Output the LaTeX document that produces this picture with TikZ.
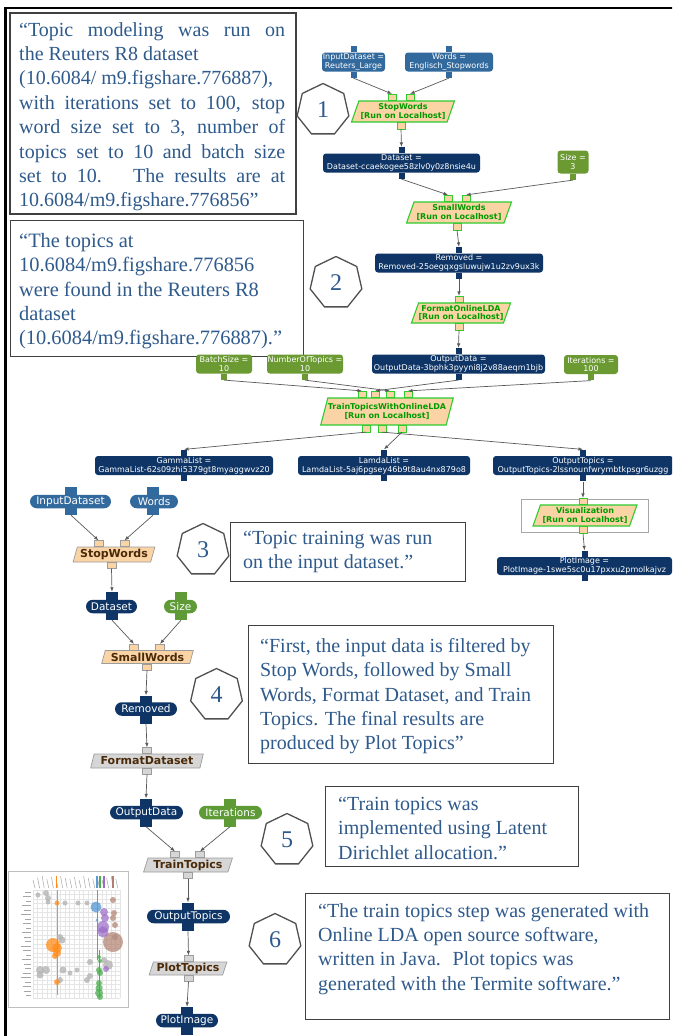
\documentclass[tikz,border=0pt]{standalone}
\usepackage{fontspec}
\setmainfont{Liberation Serif}
\newfontfamily\uifont{DejaVu Sans}
\usetikzlibrary{shapes.geometric,arrows.meta,calc}

\definecolor{quoteblue}{HTML}{2F5A8C}
\definecolor{boxline}{HTML}{404040}
\definecolor{heptline}{HTML}{505050}
\definecolor{inblue}{HTML}{336A9E}
\definecolor{navy}{HTML}{0E3566}
\definecolor{parmgreen}{HTML}{6B9A32}
\definecolor{procfill}{HTML}{FBD4A6}
\definecolor{procline}{HTML}{2ECC2E}
\definecolor{proctext}{HTML}{009A00}
\definecolor{greyfill}{HTML}{D6D6D6}
\definecolor{greyline}{HTML}{9C9C9C}
\definecolor{stepbrown}{HTML}{4A2A08}
\definecolor{pillgreen}{HTML}{5E9B37}
\definecolor{wire}{HTML}{5A5A5A}
\definecolor{tmorange}{HTML}{FF8C1A}
\definecolor{tmblue}{HTML}{5B9BD5}
\definecolor{tmpurple}{HTML}{9B6BC8}
\definecolor{tmbrown}{HTML}{B07F6E}
\definecolor{tmgreen}{HTML}{4CAF50}
\definecolor{tmgrey}{HTML}{B4B4B4}

% a justified line of the first quotation
\newcommand{\fullline}[1]{\makebox[266pt][s]{#1}}

\tikzset{
  quotebox/.style={draw=boxline, line width=1.4pt, fill=white, anchor=north west, inner sep=0pt},
  quotetext/.style={anchor=north west, inner sep=0pt, align=left, text=quoteblue,
    font=\fontsize{#1}{24.4}\selectfont},
  quotetext/.default=20,
  hept/.style={regular polygon, regular polygon sides=7,
    draw=heptline, line width=1.3pt, fill=white, minimum size=53pt, inner sep=0pt,
    text=quoteblue, font=\fontsize{24}{24}\selectfont},
  datanode/.style={rounded corners=3pt, fill=#1, text=white, align=center, inner sep=0pt,
    minimum height=19pt, font=\uifont\fontsize{8}{8.6}\selectfont},
  tabup/.style={fill=#1, minimum width=6pt, minimum height=6pt, inner sep=0pt, anchor=south},
  tabdown/.style={fill=#1, minimum width=6pt, minimum height=6pt, inner sep=0pt, anchor=north},
  runstep/.style={trapezium, trapezium left angle=66, trapezium right angle=114,
    trapezium stretches=true, fill=procfill, draw=procline, line width=1.1pt,
    text=proctext, align=center, inner sep=0pt,
    font=\uifont\bfseries\fontsize{8}{8.8}\selectfont},
  runin/.style={fill=procfill, draw=procline, line width=0.6pt, minimum width=8pt,
    minimum height=6.5pt, inner sep=0pt, anchor=south},
  runout/.style={runin, anchor=north},
  pill/.style={rounded corners=6.75pt, fill=#1, text=white, minimum height=13.5pt,
    inner sep=0pt, font=\uifont\fontsize{10.5}{11}\selectfont},
  crossbar/.style={fill=#1, minimum width=12pt, minimum height=28pt, inner sep=0pt},
  plainstep/.style={trapezium, trapezium left angle=70, trapezium right angle=110,
    trapezium stretches=true, fill=#1, draw=greyline, line width=0.7pt, text=stepbrown,
    inner sep=0pt, font=\uifont\bfseries\fontsize{11}{11}\selectfont},
  plainin/.style={fill=#1, draw=greyline, line width=0.6pt, minimum width=9pt,
    minimum height=6pt, inner sep=0pt, anchor=south},
  plainout/.style={plainin=#1, anchor=north},
  flow/.style={draw=wire, line width=0.7pt, -{Latex[length=4.5pt,width=3.5pt]}},
  gridline/.style={draw=black!10, line width=0.3pt},
  labelmark/.style={draw=black!35, line width=0.6pt},
}

\begin{document}
\begin{tikzpicture}[x=1pt, y=-1pt]
\useasboundingbox (0,0) rectangle (672,1036);
\clip (0,0) rectangle (672,1036);
\fill[white] (0,0) rectangle (672,1036);

% page rules
\draw[line width=2.4pt] (5.5,1040) -- (5.5,7.8) -- (675,7.8);

% ---------- quotation boxes ----------
\node[quotebox, line width=1.8pt, minimum width=286pt, minimum height=201pt] (q1) at (9,12) {};
\node[quotetext] (q1t) at (19,22) {\fullline{“Topic modeling was run on}\\the Reuters R8 dataset\\(10.6084/ m9.figshare.776887),\\\fullline{with iterations set to 100, stop}\\\fullline{word size set to 3, number of}\\\fullline{topics set to 10 and batch size}\\\fullline{set to 10.~ The results are at}\\10.6084/m9.figshare.776856”};

\node[quotebox, minimum width=293pt, minimum height=136pt] (q2) at (10,220) {};
\node[quotetext=20.4] (q2t) at (19,233) {“The topics at\\10.6084/m9.figshare.776856\\were found in the Reuters R8\\dataset\\(10.6084/m9.figshare.776887).”};

\node[quotebox, minimum width=235pt, minimum height=59pt] (q3) at (230,522) {};
\node[quotetext] (q3t) at (243,531) {“Topic training was run\\on the input dataset.”};

\node[quotebox, minimum width=305pt, minimum height=138pt] (q4) at (248,625) {};
\node[quotetext] (q4t) at (260,638) {“First, the input data is filtered by\\Stop Words, followed by Small\\Words, Format Dataset, and Train\\Topics. The final results are\\produced by Plot Topics”};

\node[quotebox, minimum width=253pt, minimum height=80pt] (q5) at (325,786) {};
\node[quotetext] (q5t) at (338,797) {“Train topics was\\implemented using Latent\\Dirichlet allocation.”};

\node[quotebox, minimum width=364pt, minimum height=126pt] (q6) at (305,893) {};
\node[quotetext] (q6t) at (318,903) {“The train topics step was generated with\\Online LDA open source software,\\written in Java.~ Plot topics was\\generated with the Termite software.”};

% ---------- numbered heptagons ----------
\node[hept] (h1) at (323,110) {1};
\node[hept] (h2) at (336,283) {2};
\node[hept] (h3) at (203,550) {3};
\node[hept] (h4) at (216.5,695) {4};
\node[hept] (h5) at (287,840) {5};
\node[hept] (h6) at (275,940) {6};

% ---------- detailed workflow ----------
\node[datanode=inblue, minimum width=63pt] (tInput) at (353.5,62) {InputDataset =\\Reuters\_Large};
\node[tabup=inblue] (tInput-t) at (tInput.north) {};
\node[tabdown=inblue] (tInput-b) at (tInput.south) {};
\node[datanode=inblue, minimum width=88pt] (tWords) at (449,62) {Words =\\Englisch\_Stopwords};
\node[tabup=inblue] (tWords-t) at (tWords.north) {};
\node[tabdown=inblue] (tWords-b) at (tWords.south) {};

\node[runstep, minimum width=104pt, minimum height=21pt] (tStop) at (403,111.5) {StopWords\\{[Run on Localhost]}};
\node[runin] (tStop-i1) at (392,101) {};
\node[runin] (tStop-i2) at (410,101) {};
\node[runout] (tStop-o) at (401,122) {};

\node[datanode=navy, minimum width=157pt] (tDataset) at (401.5,163) {Dataset =\\Dataset-ccaekogee58zlv0y0z8nsie4u};
\node[tabup=navy] (tDataset-t) at (tDataset.north) {};
\node[tabdown=navy] (tDataset-b) at (tDataset.south) {};
\node[datanode=parmgreen, minimum width=31pt, minimum height=23pt] (tSize) at (573,162) {Size =\\3};
\node[tabdown=parmgreen] (tSize-b) at (tSize.south) {};

\node[runstep, minimum width=106pt, minimum height=21pt] (tSmall) at (459,212.5) {SmallWords\\{[Run on Localhost]}};
\node[runin] (tSmall-i1) at (448,202) {};
\node[runin] (tSmall-i2) at (466,202) {};
\node[runout] (tSmall-o) at (457,223) {};

\node[datanode=navy, minimum width=168pt] (tRemoved) at (459,263) {Removed =\\Removed-25oegqxgsluwujw1u2zv9ux3k};
\node[tabup=navy] (tRemoved-t) at (tRemoved.north) {};
\node[tabdown=navy] (tRemoved-b) at (tRemoved.south) {};

\node[runstep, minimum width=94pt, minimum height=20pt] (tFormat) at (461,313) {FormatOnlineLDA\\{[Run on Localhost]}};
\node[runin] (tFormat-i) at (459,303) {};
\node[runout] (tFormat-o) at (459,323) {};

\node[datanode=navy, minimum width=173pt] (tOutput) at (458.5,364) {OutputData =\\OutputData-3bphk3pyyni8j2v88aeqm1bjb};
\node[tabup=navy] (tOutput-t) at (tOutput.north) {};
\node[tabdown=navy] (tOutput-b) at (tOutput.south) {};

\node[datanode=parmgreen, minimum width=56pt] (tBatch) at (224,364) {BatchSize =\\10};
\node[tabdown=parmgreen] (tBatch-b) at (tBatch.south) {};
\node[datanode=parmgreen, minimum width=76pt] (tNum) at (305,364) {NumberOfTopics =\\10};
\node[tabdown=parmgreen] (tNum-b) at (tNum.south) {};
\node[datanode=parmgreen, minimum width=54pt] (tIter) at (591,364.5) {Iterations =\\100};
\node[tabdown=parmgreen] (tIter-b) at (tIter.south) {};

\node[runstep, minimum width=125pt, minimum height=27pt] (tTrain) at (387,411.5) {TrainTopicsWithOnlineLDA\\{[Run on Localhost]}};
\node[runin] (tTrain-i1) at (362,398) {};
\node[runin] (tTrain-i2) at (375,398) {};
\node[runin] (tTrain-i3) at (390,398) {};
\node[runin] (tTrain-i4) at (408,398) {};
\node[runout] (tTrain-o1) at (366,425) {};
\node[runout] (tTrain-o2) at (382,425) {};
\node[runout] (tTrain-o3) at (402,425) {};

\node[datanode=navy, minimum width=178pt] (tGamma) at (184,465.5) {GammaList =\\GammaList-62s09zhi5379gt8myaggwvz20};
\node[tabup=navy] (tGamma-t) at (tGamma.north) {};
\node[tabdown=navy] (tGamma-b) at (tGamma.south) {};
\node[datanode=navy, minimum width=172pt] (tLamda) at (384,465.5) {LamdaList =\\LamdaList-5aj6pgsey46b9t8au4nx879o8};
\node[tabup=navy] (tLamda-t) at (tLamda.north) {};
\node[tabdown=navy] (tLamda-b) at (tLamda.south) {};
\node[datanode=navy, minimum width=180pt] (tOutTop) at (583,465.5) {OutputTopics =\\OutputTopics-2lssnounfwrymbtkpsgr6uzgg};
\node[tabup=navy] (tOutTop-t) at (tOutTop.north) {};
\node[tabdown=navy] (tOutTop-b) at (tOutTop.south) {};

\node[draw=black!35, line width=0.6pt, minimum width=127pt, minimum height=33pt, inner sep=0pt] (tVisFrame) at (584.5,515.5) {};
\node[runstep, minimum width=105pt, minimum height=21pt] (tVis) at (585,515.5) {Visualization\\{[Run on Localhost]}};
\node[runin] (tVis-i) at (583,505) {};
\node[runout] (tVis-o) at (583,526) {};

\node[datanode=navy, minimum width=175pt, minimum height=18pt] (tPlot) at (584.5,566) {PlotImage =\\PlotImage-1swe5sc0u17pxxu2pmolkajvz};
\node[tabup=navy] (tPlot-t) at (tPlot.north) {};
\node[tabdown=navy] (tPlot-b) at (tPlot.south) {};

\draw[flow] (tInput-b.south) -- (tStop-i1.north);
\draw[flow] (tWords-b.south) -- (tStop-i2.north);
\draw[flow] (tStop-o.south) -- (tDataset-t.north);
\draw[flow] (tDataset-b.south) -- (tSmall-i1.north);
\draw[flow] (tSize-b.south) -- (tSmall-i2.north);
\draw[flow] (tSmall-o.south) -- (tRemoved-t.north);
\draw[flow] (tRemoved-b.south) -- (tFormat-i.north);
\draw[flow] (tFormat-o.south) -- (tOutput-t.north);
\draw[flow] (tBatch-b.south) -- (tTrain-i1.north);
\draw[flow] (tOutput-b.south) -- (tTrain-i2.north);
\draw[flow] (tNum-b.south) -- (tTrain-i3.north);
\draw[flow] (tIter-b.south) -- (tTrain-i4.north);
\draw[flow] (tTrain-o1.south) -- (tGamma-t.north);
\draw[flow] (tTrain-o2.south) -- (tOutTop-t.north);
\draw[flow] (tTrain-o3.south) -- (tLamda-t.north);
\draw[flow] (tOutTop-b.south) -- (tVis-i.north);
\draw[flow] (tVis-o.south) -- (tPlot-t.north);

% ---------- simplified workflow ----------
\node[crossbar=inblue] (lInput-x) at (71,501) {};
\node[pill=inblue, minimum width=81pt] (lInput) at (70.5,501.5) {InputDataset};
\node[crossbar=inblue] (lWords-x) at (153,501) {};
\node[pill=inblue, minimum width=48pt] (lWords) at (154,501.5) {Words};

\node[plainstep=procfill, minimum width=82pt, minimum height=15pt] (lStop) at (114,554.5) {StopWords};
\node[plainin=procfill] (lStop-i1) at (98.5,547) {};
\node[plainin=procfill] (lStop-i2) at (124.5,547) {};
\node[plainout=procfill] (lStop-o) at (111.5,562) {};

\node[crossbar=navy] (lDataset-x) at (112,606) {};
\node[pill=navy, minimum width=51pt] (lDataset) at (111.5,606.5) {Dataset};
\node[crossbar=pillgreen] (lSize-x) at (181,606) {};
\node[pill=pillgreen, minimum width=33pt] (lSize) at (180.5,606.5) {Size};

\node[plainstep=procfill, minimum width=92pt, minimum height=13pt] (lSmall) at (147.5,657) {SmallWords};
\node[plainin=procfill] (lSmall-i1) at (134,650.5) {};
\node[plainin=procfill] (lSmall-i2) at (160,650.5) {};
\node[plainout=procfill] (lSmall-o) at (147,663.5) {};

\node[crossbar=navy] (lRemoved-x) at (146,709.5) {};
\node[pill=navy, minimum width=62pt] (lRemoved) at (146,709) {Removed};

\node[plainstep=greyfill, minimum width=113pt, minimum height=14pt] (lFormat) at (147,761) {FormatDataset};
\node[plainin=greyfill] (lFormat-i) at (147,754) {};
\node[plainout=greyfill] (lFormat-o) at (147,768) {};

\node[crossbar=navy] (lOutData-x) at (146,812.5) {};
\node[pill=navy, minimum width=73pt] (lOutData) at (146.5,812.5) {OutputData};
\node[crossbar=pillgreen] (lIter-x) at (230,812.5) {};
\node[pill=pillgreen, minimum width=63pt] (lIter) at (230.5,812.5) {Iterations};

\node[plainstep=greyfill, minimum width=89pt, minimum height=14pt] (lTrain) at (188,865) {TrainTopics};
\node[plainin=greyfill] (lTrain-i1) at (175,858) {};
\node[plainin=greyfill] (lTrain-i2) at (200,858) {};
\node[plainout=greyfill] (lTrain-o) at (188,872) {};

\node[crossbar=navy] (lOutTop-x) at (188,916.5) {};
\node[pill=navy, minimum width=83pt] (lOutTop) at (188.5,916.5) {OutputTopics};

\node[plainstep=greyfill, minimum width=78pt, minimum height=13pt] (lPlot) at (188,968.5) {PlotTopics};
\node[plainin=greyfill] (lPlot-i) at (188.5,962) {};
\node[plainout=greyfill] (lPlot-o) at (188.5,975) {};

\node[crossbar=navy] (lPlotImg-x) at (187,1021) {};
\node[pill=navy, minimum width=62pt] (lPlotImg) at (187,1020.5) {PlotImage};

\draw[flow] (lInput-x.south) -- (lStop-i1.north);
\draw[flow] (lWords-x.south) -- (lStop-i2.north);
\draw[flow] (lStop-o.south) -- (lDataset-x.north);
\draw[flow] (lDataset-x.south) -- (lSmall-i1.north);
\draw[flow] (lSize-x.south) -- (lSmall-i2.north);
\draw[flow] (lSmall-o.south) -- (lRemoved-x.north);
\draw[flow] (lRemoved-x.south) -- (lFormat-i.north);
\draw[flow] (lFormat-o.south) -- (lOutData-x.north);
\draw[flow] (lOutData-x.south) -- (lTrain-i1.north);
\draw[flow] (lIter-x.south) -- (lTrain-i2.north);
\draw[flow] (lTrain-o.south) -- (lOutTop-x.north);
\draw[flow] (lOutTop-x.south) -- (lPlot-i.north);
\draw[flow] (lPlot-o.south) -- (lPlotImg-x.north);

% ---------- Termite topic chart thumbnail ----------
\node[draw=black!25, fill=white, line width=0.7pt, minimum width=120.5pt, minimum height=136pt,
  inner sep=0pt, anchor=north west] (thumb) at (7.5,871) {};
\foreach \r in {0,...,24} \draw[gridline] (33,{890+\r*4.5}) -- (120,{890+\r*4.5});
\foreach \c in {0,...,19} \draw[gridline] ({33+\c*4.58},890) -- ({33+\c*4.58},998);
\foreach \r/\l in {0/6,1/8,2/5,3/9,4/7,5/10,6/6,7/8,8/5,9/9,10/7,11/6,12/10,13/8,14/5,15/9,16/7,17/6,18/8,19/10,20/6,21/8,22/7,23/5}
  \draw[labelmark, line width=0.5pt] ({31-\l},{892+\r*4.5}) -- (31,{892+\r*4.5});
\foreach \c/\l in {0/8,1/10,2/12,3/9,4/11,5/8,6/12,7/10,8/9,9/11,10/8,11/12,12/10,13/9,14/11,15/8,16/10,17/12,18/9}
  \draw[labelmark, line width=0.5pt] ({35+\c*4.6},888) -- ({33+\c*4.6},{888-\l});
\draw[tmorange, line width=1.2pt] (56.5,876) -- (56.5,888);
\draw[tmblue, line width=1.2pt] (97,876) -- (97,888);
\draw[tmgreen, line width=1.2pt] (100,876) -- (100,888);
\draw[tmpurple, line width=1.2pt] (104,876) -- (104,888);
\draw[tmbrown, line width=1.2pt] (113,876) -- (113,888);
\draw[tmorange, line width=0.8pt] (57,890) -- (57,995);
\draw[tmblue, line width=0.6pt] (97.5,890) -- (97.5,960);
\draw[tmgreen, line width=0.8pt] (99.5,950) -- (99.5,998);
\foreach \x/\y/\rr in {38/895/2.5,46/893/3,48/898/3,48/902/2.5,65/903/2.5,78/903/2.5,87/903/2.5,
    60/937/3,62/940/3.5,90/962/3,108/965/5,104/960/3,40/970/4,46/970/4,40/975/3.5,63/970/3.5,
    60/980/3,87/980/3,90/976/3,77/970/2.5,70/973/2.5,115/937/3}
  \fill[tmgrey, opacity=0.8] (\x,\y) circle[radius=\rr];
\foreach \x/\y/\rr in {57/903/2.5,53/945/7,57/948/5,57/953/4,55/956/3,57/982/3}
  \fill[tmorange, opacity=0.75] (\x,\y) circle[radius=\rr];
\foreach \x/\y/\rr in {96/907/5.5,97/920/1.5}
  \fill[tmblue, opacity=0.8] (\x,\y) circle[radius=\rr];
\foreach \x/\y/\rr in {113/900/3,114/913/3,113/918/3,115/925/3,113/942/10}
  \fill[tmbrown, opacity=0.7] (\x,\y) circle[radius=\rr];
\foreach \x/\y/\rr in {104/912/4,105/918/4,103/927/6,103/932/5.5,106/969/3}
  \fill[tmpurple, opacity=0.7] (\x,\y) circle[radius=\rr];
\foreach \x/\y/\rr in {99/957/2,100/961/2,99/970/3,100/973/3,99/983/3,99/988/3.5,99/993/4,100/997/3}
  \fill[tmgreen, opacity=0.75] (\x,\y) circle[radius=\rr];
\end{tikzpicture}
\end{document}
